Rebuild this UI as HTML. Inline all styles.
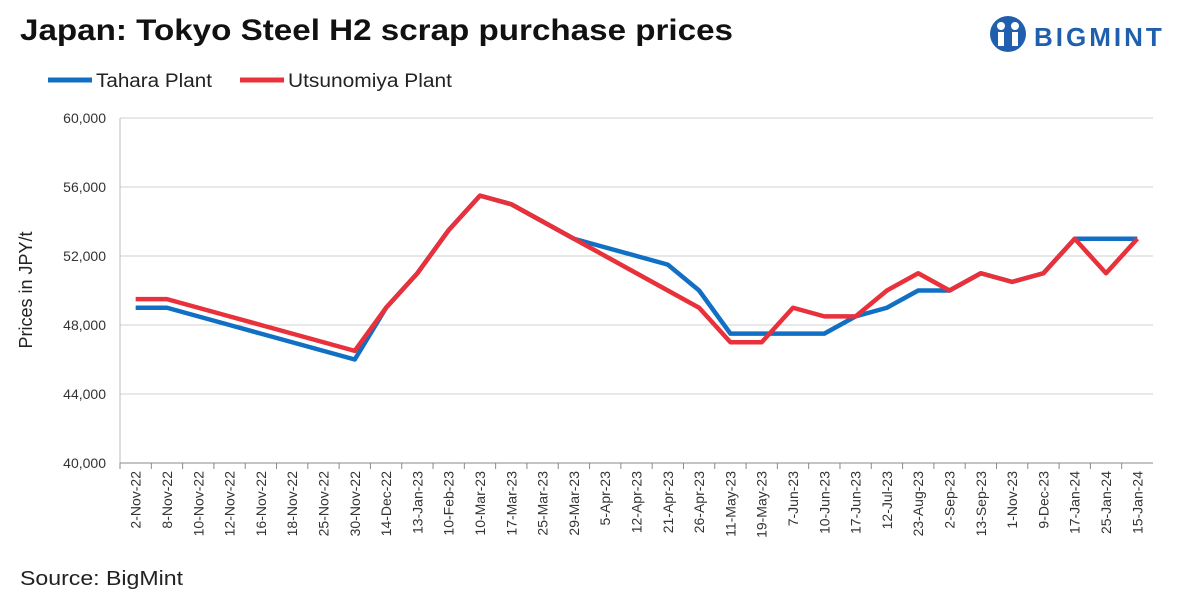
<!DOCTYPE html>
<html><head><meta charset="utf-8"><style>
body{margin:0;background:#fff;font-family:"Liberation Sans",sans-serif;}
#wrap{position:relative;width:1200px;height:601px;overflow:hidden;}
</style></head><body>
<div id="wrap">
<svg id="chart" width="1200" height="601" xmlns="http://www.w3.org/2000/svg">
<text x="20" y="40" font-size="30" font-weight="bold" fill="#111" textLength="713" lengthAdjust="spacingAndGlyphs">Japan: Tokyo Steel H2 scrap purchase prices</text>
<g>
<circle cx="1008" cy="34" r="18" fill="#1f5fae"/>
<circle cx="1001" cy="26" r="4" fill="#fff"/><circle cx="1015" cy="26" r="4" fill="#fff"/>
<rect x="998" y="32" width="6" height="14" fill="#fff"/><rect x="1012" y="32" width="6" height="14" fill="#fff"/>
<text x="1034" y="46" font-size="26" font-weight="bold" fill="#1f5fae" letter-spacing="3">BIGMINT</text>
</g>
<g>
<line x1="48" y1="80" x2="92" y2="80" stroke="#1170c4" stroke-width="5"/>
<text x="96" y="87" font-size="19" fill="#222" textLength="116" lengthAdjust="spacingAndGlyphs">Tahara Plant</text>
<line x1="240" y1="80" x2="284" y2="80" stroke="#e8313a" stroke-width="5"/>
<text x="288" y="87" font-size="19" fill="#222" textLength="164" lengthAdjust="spacingAndGlyphs">Utsunomiya Plant</text>
</g>
<text transform="translate(32,290) rotate(-90)" text-anchor="middle" font-size="18" fill="#222">Prices in JPY/t</text>
<g id="grid"></g><g id="xl"></g><g id="series"></g>
<text x="20" y="585" font-size="20" fill="#222" textLength="163" lengthAdjust="spacingAndGlyphs">Source: BigMint</text>
</svg>
</div>
<script>
const categories=["2-Nov-22","8-Nov-22","10-Nov-22","12-Nov-22","16-Nov-22","18-Nov-22","25-Nov-22","30-Nov-22","14-Dec-22","13-Jan-23","10-Feb-23","10-Mar-23","17-Mar-23","25-Mar-23","29-Mar-23","5-Apr-23","12-Apr-23","21-Apr-23","26-Apr-23","11-May-23","19-May-23","7-Jun-23","10-Jun-23","17-Jun-23","12-Jul-23","23-Aug-23","2-Sep-23","13-Sep-23","1-Nov-23","9-Dec-23","17-Jan-24","25-Jan-24","15-Jan-24"];
const tahara=[49000,49000,48500,48000,47500,47000,46500,46000,49000,51000,53500,55500,55000,54000,53000,52500,52000,51500,50000,47500,47500,47500,47500,48500,49000,50000,50000,51000,50500,51000,53000,53000,53000];
const utsunomiya=[49500,49500,49000,48500,48000,47500,47000,46500,49000,51000,53500,55500,55000,54000,53000,52000,51000,50000,49000,47000,47000,49000,48500,48500,50000,51000,50000,51000,50500,51000,53000,51000,53000];
const yTicks=[40000,44000,48000,52000,56000,60000];
const NS="http://www.w3.org/2000/svg";
const L=120,R=1153,T=118,B=463,yMin=40000,yMax=60000;
const step=(R-L)/categories.length;
const xs=i=>L+step*(i+0.5);
const ys=v=>B-(v-yMin)/(yMax-yMin)*(B-T);
function mk(tag,attrs,parent){const e=document.createElementNS(NS,tag);for(const k in attrs)e.setAttribute(k,attrs[k]);parent.appendChild(e);return e;}
const grid=document.getElementById('grid');
yTicks.forEach(v=>{
 const y=ys(v);
 const ln=mk('line',{x1:L,x2:R,y1:y,y2:y,stroke:v===yMin?'#888':'#d0d0d0','stroke-width':1},grid);
 
 
 const t=mk('text',{x:L-14,y:y+5,'text-anchor':'end','font-size':14,fill:'#333'},grid);
 t.textContent=v.toLocaleString('en-US');
 
 
});
const ax=mk('line',{x1:L,x2:L,y1:T,y2:B,stroke:'#bbb'},grid);


const xl=document.getElementById('xl');
categories.forEach((c,i)=>{
 const x=xs(i);
 const tk=mk('line',{x1:L+step*i,x2:L+step*i,y1:B,y2:B+6,stroke:'#888'},xl);
 
 
 const t=mk('text',{transform:`translate(${x+5},${B+8}) rotate(-90)`,'text-anchor':'end','font-size':14,fill:'#333'},xl);
 t.textContent=c;
 
 
});
const s=document.getElementById('series');
function line(data,color,name){
 const p=mk('polyline',{points:data.map((v,i)=>xs(i)+','+ys(v)).join(' '),fill:'none',stroke:color,'stroke-width':4.5,'stroke-linejoin':'round'},s);
 
 
}
line(tahara,'#1170c4','tahara-line');
line(utsunomiya,'#e8313a','utsunomiya-line');
</script>
</body></html>
